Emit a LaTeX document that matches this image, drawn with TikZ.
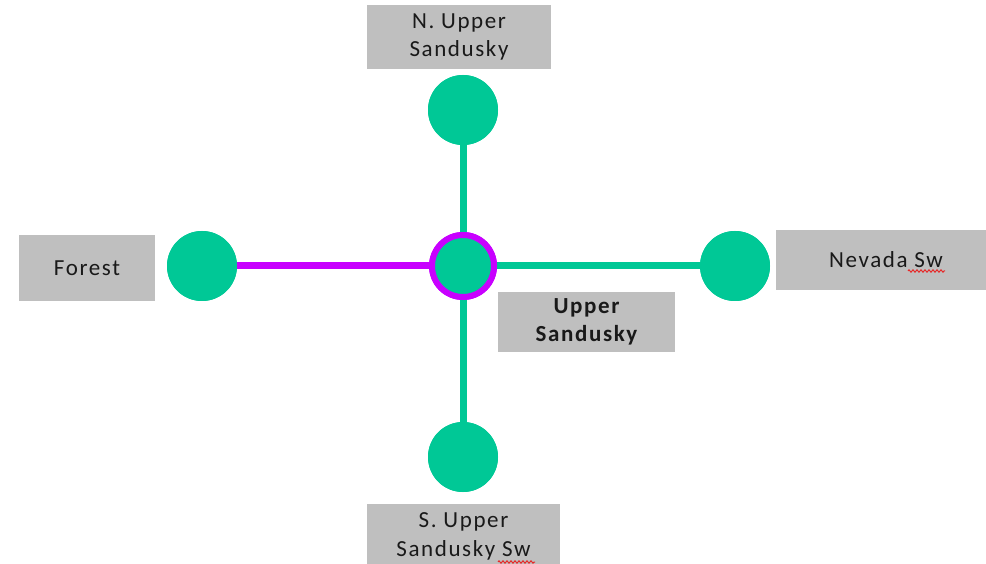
\documentclass[tikz,border=0pt]{standalone}
\usepackage{fontspec}
\setmainfont{Carlito}[LetterSpace=7]
\usetikzlibrary{decorations.pathmorphing}
\definecolor{stgreen}{RGB}{0,200,150}
\definecolor{stmag}{RGB}{200,0,255}
\definecolor{boxgray}{RGB}{191,191,191}
\definecolor{spellred}{RGB}{230,40,40}
\tikzset{
  station/.style={circle,fill=stgreen,inner sep=0pt,minimum size=70pt},
  hub/.style={circle,fill=stgreen,draw=stmag,line width=6pt,inner sep=0pt,minimum size=62pt},
  label/.style={fill=boxgray,inner sep=0pt,align=center,font=\fontsize{23}{28.5}\selectfont,text=black!90},
  gline/.style={draw=stgreen,line width=7pt},
  mline/.style={draw=stmag,line width=7pt},
  squig/.style={draw=spellred,line width=1pt,decorate,decoration={zigzag,segment length=4pt,amplitude=1.2pt}}
}
\begin{document}
\begin{tikzpicture}[x=1pt,y=-1pt]
\useasboundingbox (0,0) rectangle (986,564);
\node[station] (n) at (463,110) {};
\node[station] (w) at (202,266) {};
\node[station] (e) at (735,266) {};
\node[station] (s) at (463,457) {};
\node[hub] (c) at (463,266) {};
\path[gline] (n.center) -- (c.center);
\path[gline] (c.center) -- (s.center);
\path[gline] (c.center) -- (e.center);
\path[mline] (w.center) -- (c.center);
\node[station] at (n) {};
\node[station] at (w) {};
\node[station] at (e) {};
\node[station] at (s) {};
\node[hub] at (c) {};
\node[label,minimum width=184pt,minimum height=64pt] (ln) at (459,37) {N. Upper\\Sandusky};
\node[label,minimum width=136pt,minimum height=66pt] (lw) at (87,268) {Forest};
\node[label,minimum width=220pt,minimum height=60pt] (le) at (886,260) {Nevada Sw};
\node[label,minimum width=177pt,minimum height=60pt,font=\fontsize{23}{28.5}\selectfont\bfseries] (lc) at (586.5,322) {Upper\\Sandusky};
\node[label,minimum width=193pt,minimum height=64pt,anchor=north] (ls) at (463.5,504) {S. Upper\\Sandusky Sw};
\coordinate (e1) at (908,271);
\coordinate (e2) at (945,271);
\coordinate (s1) at (498,562);
\coordinate (s2) at (535,562);
\path[squig] (e1) -- (e2);
\path[squig] (s1) -- (s2);
\end{tikzpicture}
\end{document}
